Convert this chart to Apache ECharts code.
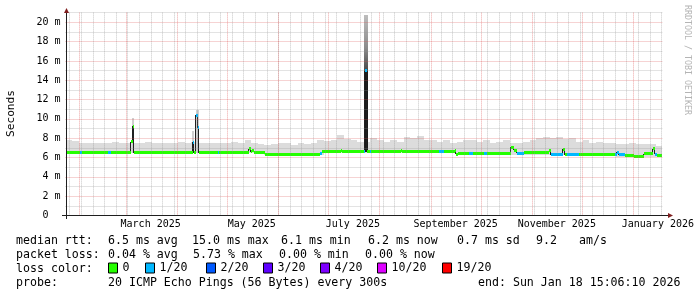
<!DOCTYPE html>
<html><head><meta charset="utf-8">
<script src="https://cdn.jsdelivr.net/npm/echarts@6/dist/echarts.min.js"></script>
<style>html,body{margin:0;padding:0;background:#fff}#c{width:697px;height:297px}</style>
</head><body><div id="c"></div>
<script>
// ---------- time window ----------
const CHART_END = Date.parse('2026-01-18T15:06:10Z');
const SPAN_DAYS = 360;
const DAY_MS = 86400000;
const CHART_START = CHART_END - SPAN_DAYS * DAY_MS;

// ---------- axis / grid data ----------
const monthStarts = ['2025-02-01','2025-03-01','2025-04-01','2025-05-01','2025-06-01','2025-07-01',
  '2025-08-01','2025-09-01','2025-10-01','2025-11-01','2025-12-01','2026-01-01'];
const monthLabelDates = ['2025-03-16','2025-05-16','2025-07-16','2025-09-16','2025-11-16','2026-01-16'];
const monthLabels = ['March 2025','May 2025','July 2025','September 2025','November 2025','January 2026'];
const firstWeekStart = '2025-01-26';
const yTickMax = 21;

// ---------- smoke (4-day bins across the 360 days) ----------
const smokeTop = [7.8,7.7,7.5,7.55,7.5,7.55,7.5,7.65,7.55,7.55,
  7.5,7.55,7.65,7.55,7.5,7.55,7.5,7.65,7.5,7.6,
  7.55,7.5,7.55,7.5,7.55,7.65,7.5,7.85,7.5,7.4,
  7.3,7.4,7.5,7.55,7.3,7.5,7.4,7.5,7.8,7.75,
  7.8,8.3,7.95,7.8,7.65,7.65,8.0,7.8,7.65,7.8,
  7.65,8.1,8.0,8.2,7.85,7.8,7.65,7.8,7.55,7.65,
  7.8,7.85,7.65,7.8,7.55,7.65,7.8,7.55,7.5,7.65,
  7.8,8.05,8.1,8.0,8.1,7.9,8.0,7.65,7.8,7.55,
  7.6,7.5,7.55,7.4,7.35,7.5,7.4,7.45,7.35,7.2];
const smokeLow = [6.45,6.45,6.45,6.45,6.45,6.45,6.45,6.45,6.45,6.45,
  6.45,6.45,6.45,6.45,6.45,6.45,6.45,6.45,6.45,6.45,
  6.45,6.45,6.45,6.45,6.45,6.45,6.45,6.45,6.45,6.45,
  6.3,6.3,6.3,6.3,6.3,6.3,6.3,6.3,6.3,6.5,
  6.5,6.5,6.5,6.5,6.5,6.5,6.5,6.5,6.5,6.5,
  6.5,6.5,6.5,6.5,6.5,6.5,6.5,6.5,6.5,6.28,
  6.28,6.28,6.28,6.28,6.28,6.28,6.28,6.28,6.28,6.28,
  6.28,6.28,6.28,6.28,6.28,6.28,6.28,6.28,6.28,6.28,
  6.28,6.28,6.28,6.08,6.08,6.08,6.08,6.08,6.08,6.08];
// short spikes of the smoke (day from window start)
const spikeStart = [40.4, 76.4, 78.6, 180.2];
const spikeEnd   = [41.6, 77.8, 80.4, 182.2];
const spikeLow   = [6.5, 6.5, 6.5, 6.6];
const spikeTop   = [10.1, 8.7, 10.9, 20.8];

// ---------- median rtt (ms), piecewise: value holds from medDay[i] to medDay[i+1] ----------
const medDay = [0,9.0,9.8,25.5,27.5, 39.6,40.6,41.4,76.8,77.6, 78.8,80.0,80.6,91.8,92.4,
  110.6,111.8,112.8,113.8,120.6, 153.8,154.6,166.0,166.8,180.2, 180.8,182.0,183.6,184.6,202.2,
  202.8,225.6,228.6,234.8,235.6, 237.0,243.6,245.7,252.7,254.3, 268.8,270.7,272.3,276.7,291.7,
  293.1,300.3,301.1,302.7,309.7, 331.5,333.0,334.2,337.7,342.7, 348.7,354.7,355.5,356.7];
const medVal = [6.5,6.5,6.5,6.5,6.5, 7.65,9.25,6.5,7.6,6.5, 10.35,9.1,6.5,6.5,6.5,
  6.9,6.6,6.75,6.55,6.35, 6.4,6.6,6.75,6.6,6.6, 15.0,6.6,6.6,6.6,6.75,
  6.6,6.6,6.6,6.75,6.35, 6.42,6.42,6.42,6.42,6.45, 7.05,6.75,6.45,6.48,6.7,
  6.28,6.85,6.3,6.28,6.35, 6.3,6.55,6.3,6.17,6.12, 6.38,6.9,6.35,6.25];
// lost pings (of 20) in each piece
const medLoss = [0,1,0,1,0, 0,0,0,1,0, 1,1,0,1,0, 0,0,0,0,0, 1,0,0,0,1, 1,0,1,0,0,
  0,1,0,0,0, 0,1,0,1,0, 0,0,1,0,0, 1,0,0,1,0, 1,1,1,0,0, 0,0,1,0];

// ---------- loss colour legend ----------
const lossNames = ['0','1/20','2/20','3/20','4/20','10/20','19/20'];
const lossUpper = [0,1,2,3,4,10,19];
const lossColors = ['#26ff00','#00b8ff','#0059ff','#5e00ff','#7e00ff','#dd00ff','#ff0000'];

// ---------- legend texts ----------
const rttStats = ['6.5 ms avg','15.0 ms max','6.1 ms min','6.2 ms now','0.7 ms sd','9.2','am/s'];
const lossStats = ['0.04 % avg','5.73 % max','0.00 % min','0.00 % now'];
const probeText = '20 ICMP Echo Pings (56 Bytes) every 300s';
const endText = 'end: Sun Jan 18 15:06:10 2026';

// ---------- layout ----------
const G = {left: 65.5, top: 12.6, width: 600, bottom: 81.5};
const AXIS_Y = 215.5, AXIS_X = 66.5;
const MONO = '"DejaVu Sans Mono", monospace';
const GRID_COL = 'rgba(143,143,143,0.5)';
const MGRID_COL = 'rgba(222,79,79,0.5)';
const ARROW_COL = '#801f1f';
const AXIS_COL = '#1f1f1f';
const BAND_HALF = 0.16;
const rttX = [108,192,281,368,457,536,579];
const lossX = [108,193,279,365];
const legendX = [108,145,206,263,320,377,442];
const rowY = [241.3,255.2,269,283];

const day = d => CHART_START + d * DAY_MS;
const utc = s => Date.parse(s + 'T00:00:00Z');

// derived series data
const binDays = SPAN_DAYS / smokeTop.length;
const smokeData = smokeTop.map((h, i) => [day(i * binDays), day((i + 1) * binDays), smokeLow[i], h]);
const spikeData = spikeTop.map((h, i) => [day(spikeStart[i]), day(spikeEnd[i]), spikeLow[i], h]);
// vertical connectors of the median where its value changes
const medSteps = [];
for (let i = 1; i < medDay.length; i++) {
  if (medVal[i] !== medVal[i - 1]) medSteps.push([day(medDay[i]), medVal[i - 1], medVal[i]]);
}
const segs = medDay.map((d, i) => [day(d), day(i + 1 < medDay.length ? medDay[i + 1] : SPAN_DAYS), medVal[i], medLoss[i]]);
const bucketOf = l => lossUpper.findIndex(u => l <= u);
const bandData = lossNames.map((_, k) => segs.filter(s => bucketOf(s[3]) === k));
const weekLines = [];
for (let w = utc(firstWeekStart); w < CHART_END; w += 7 * DAY_MS) weekLines.push([w]);
const monthLines = monthStarts.map(s => [utc(s)]);
const labelDates = monthLabelDates.map(utc);
const labelMap = {};
labelDates.forEach((v, i) => labelMap[v] = monthLabels[i]);

function rectItem(fillFn) {
  return function (params, api) {
    const a = api.coord([api.value(0), api.value(3)]);
    const b = api.coord([api.value(1), api.value(2)]);
    const x0 = Math.round(a[0]), x1 = Math.max(Math.round(b[0]), x0 + 1);
    const y0 = Math.round(a[1]), y1 = Math.round(b[1]);
    return {type: 'rect', shape: {x: x0, y: y0, width: x1 - x0, height: y1 - y0},
      style: {fill: fillFn(api, y0, y1)}};
  };
}
function bandItem(params, api) {
  const v = api.value(2);
  const a = api.coord([api.value(0), v + BAND_HALF]);
  const b = api.coord([api.value(1), v - BAND_HALF]);
  const x0 = Math.round(a[0]), x1 = Math.max(Math.round(b[0]), x0 + 1);
  const y0 = Math.round(a[1]), y1 = Math.round(b[1]);
  return {type: 'rect', shape: {x: x0, y: y0, width: x1 - x0, height: Math.max(y1 - y0, 2)},
    style: {fill: api.visual('color')}};
}
function stepItem(params, api) {
  const a = api.coord([api.value(0), api.value(1)]);
  const b = api.coord([api.value(0), api.value(2)]);
  const x = Math.round(a[0]) - 0.5;
  return {type: 'line', shape: {x1: x, y1: Math.round(a[1]), x2: x, y2: Math.round(b[1])},
    style: {stroke: '#202020', lineWidth: 1}};
}
function vGridItem(params, api) {
  const x = Math.round(api.coord([api.value(0), 0])[0]) + 0.5;
  const cs = params.coordSys;
  return {type: 'line', shape: {x1: x, y1: cs.y, x2: x, y2: cs.y + cs.height},
    style: {stroke: api.visual('color'), lineWidth: 1, lineDash: [1, 1]}};
}

const chart = echarts.init(document.getElementById('c'), null, {renderer: 'canvas'});
const txt = (text, x, y, extra) => Object.assign({type: 'text', x, y, z: 20,
  style: Object.assign({text, fontFamily: MONO, fontSize: 11.6, fill: '#000', align: 'left', verticalAlign: 'middle'}, extra || {})});

const graphics = [
  {type: 'line', z: 20, shape: {x1: 62, y1: AXIS_Y, x2: 668, y2: AXIS_Y}, style: {stroke: AXIS_COL, lineWidth: 1}},
  {type: 'line', z: 20, shape: {x1: AXIS_X, y1: 219, x2: AXIS_X, y2: 12}, style: {stroke: AXIS_COL, lineWidth: 1}},
  {type: 'polygon', z: 21, shape: {points: [[64, 13], [69, 13], [66.5, 8]]}, style: {fill: ARROW_COL}},
  {type: 'polygon', z: 21, shape: {points: [[668, 213], [668, 218], [673, 215.5]]}, style: {fill: ARROW_COL}},
  {type: 'text', x: 11, y: 113.5, rotation: Math.PI / 2, z: 20,
    style: {text: 'Seconds', fontFamily: MONO, fontSize: 11.2, fill: '#000', align: 'center', verticalAlign: 'middle'}},
  {type: 'text', x: 687.5, y: 60, rotation: -Math.PI / 2, z: 20,
    style: {text: 'RRDTOOL / TOBI OETIKER', fontFamily: MONO, fontSize: 8.3, fill: '#b4b4b4', align: 'center', verticalAlign: 'middle'}},
  txt('median rtt:', 16, rowY[0]),
  ...rttStats.map((s, i) => txt(s, rttX[i], rowY[0])),
  txt('packet loss:', 16, rowY[1]),
  ...lossStats.map((s, i) => txt(s, lossX[i], rowY[1])),
  txt('loss color:', 16, rowY[2]),
  txt('probe:', 16, rowY[3]),
  txt(probeText, 108, rowY[3]),
  txt(endText, 478, rowY[3])
];

const series = [
  {type: 'custom', name: 'smoke', z: 1, silent: true, data: smokeData, encode: {x: [0, 1], y: [2, 3]},
    renderItem: rectItem(() => '#dcdcdc')},
  {type: 'custom', name: 'smoke-spikes', z: 1.5, silent: true, data: spikeData, encode: {x: [0, 1], y: [2, 3]},
    renderItem: rectItem(function (api, y0, y1) {
      if (api.value(3) < 15) return '#cfcfcf';
      const f = (api.coord([0, 15])[1] - y0) / (y1 - y0);
      return new echarts.graphic.LinearGradient(0, 0, 0, 1, [
        {offset: 0, color: '#bdbdbd'}, {offset: f * 0.6, color: '#8a8a8a'},
        {offset: f, color: '#4a4a4a'}, {offset: Math.min(f + 0.01, 1), color: '#1a1a1a'}, {offset: 1, color: '#1a1a1a'}]);
    })},
  {type: 'custom', name: 'median', z: 3, silent: true, data: medSteps, encode: {x: 0, y: [1, 2]},
    renderItem: stepItem},
  ...lossNames.map((name, k) => ({type: 'custom', name, z: 4, silent: true, data: bandData[k],
    encode: {x: [0, 1], y: 2}, itemStyle: {color: lossColors[k]}, renderItem: bandItem})),
  {type: 'custom', name: 'weeks', z: 9, silent: true, data: weekLines, encode: {x: 0},
    itemStyle: {color: GRID_COL}, renderItem: vGridItem},
  {type: 'custom', name: 'months', z: 9.5, silent: true, data: monthLines, encode: {x: 0},
    itemStyle: {color: MGRID_COL}, renderItem: vGridItem}
];

chart.setOption({
  animation: false,
  backgroundColor: '#ffffff',
  grid: {left: G.left, top: G.top, width: G.width, bottom: G.bottom, containLabel: false},
  xAxis: {type: 'value', min: CHART_START, max: CHART_END, z: 10,
    axisLine: {show: false}, splitLine: {show: false},
    axisTick: {show: false},
    axisLabel: {customValues: labelDates, formatter: v => labelMap[v] || '', margin: 4,
      fontFamily: MONO, fontSize: 10, color: '#000', hideOverlap: false}},
  yAxis: {type: 'value', min: 0, max: yTickMax, interval: 1, z: 10,
    axisLine: {show: false}, axisTick: {show: false},
    splitLine: {show: true, lineStyle: {color: [MGRID_COL, GRID_COL], type: [1, 1], width: 1}},
    axisLabel: {margin: 5, fontFamily: MONO, fontSize: 10, color: '#000',
      showMaxLabel: false,
      formatter: v => (v % 2 !== 0 ? '' : (v === 0 ? '0  ' : v + ' m'))}},
  legend: lossNames.map((name, k) => ({data: [name], left: legendX[k], top: 262, padding: 0,
    itemWidth: 9, itemHeight: 10, icon: 'rect', selectedMode: false,
    itemStyle: {borderColor: '#000', borderWidth: 1},
    textStyle: {fontFamily: MONO, fontSize: 11.6, color: '#000'}})),
  graphic: graphics,
  series
});
</script>
</body></html>
